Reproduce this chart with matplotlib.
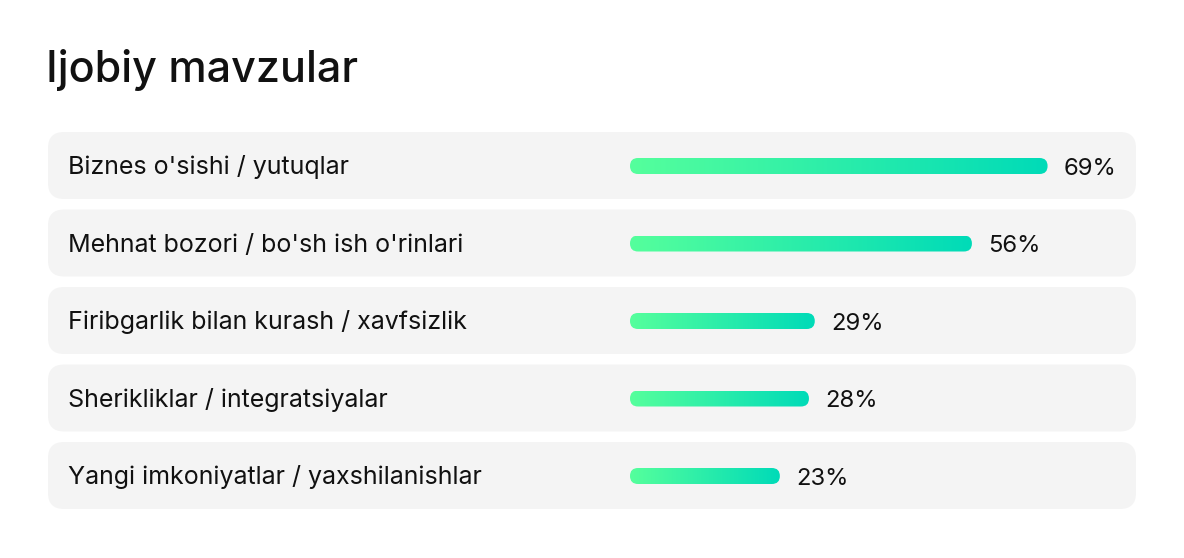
import numpy as np
import matplotlib.pyplot as plt
from matplotlib.patches import FancyBboxPatch
from matplotlib.colors import LinearSegmentedColormap

plt.rcParams['font.family'] = ['Inter', 'DejaVu Sans']

# Data
title = 'Ijobiy mavzular'
topics = [
    "Biznes o'sishi / yutuqlar",
    "Mehnat bozori / bo'sh ish o'rinlari",
    'Firibgarlik bilan kurash / xavfsizlik',
    'Sherikliklar / integratsiyalar',
    'Yangi imkoniyatlar / yaxshilanishlar',
]
shares = [69, 56, 29, 28, 23]

W, H = 1184, 558
fig = plt.figure(figsize=(W / 100, H / 100), dpi=100)

# background layer in pixel coordinates: title, cards, labels
bg = fig.add_axes([0, 0, 1, 1])
bg.set_xlim(0, W)
bg.set_ylim(H, 0)
bg.axis('off')

pitch = 77.5          # row pitch (px)
card_top, card_h = 132, 67
text_col = '#111111'

bg.text(46, 82, title, fontsize=31, fontweight='medium', color=text_col,
        va='baseline', ha='left')

for i, name in enumerate(topics):
    y0 = card_top + i * pitch
    bg.add_patch(FancyBboxPatch((48, y0), 1088, card_h,
                                boxstyle='round,pad=0,rounding_size=16',
                                fc='#f4f4f4', ec='none'))
    bg.text(68, y0 + card_h / 2 + 8.7, name, fontsize=18, color=text_col,
            va='baseline', ha='left')

# data layer: x in percent, y in row index
px_per_pct = 5.82
x0_px = 638
row0_px = 166
xmin, xmax = -5, 80
ax = fig.add_axes([(x0_px + xmin * px_per_pct) / W, (H - (row0_px + 4.5 * pitch)) / H,
                   (xmax - xmin) * px_per_pct / W, 5 * pitch / H])
ax.patch.set_alpha(0)
ax.axis('off')

cmap = LinearSegmentedColormap.from_list('bar', ['#55ff9c', '#00dbb8'])
grad = np.linspace(0, 1, 256).reshape(1, -1)
cap = 8 / px_per_pct          # round cap length in percent units
half = 8 / pitch              # half bar height in row units

for i, v in enumerate(shares):
    shape = FancyBboxPatch((-cap, i - half), v + 2 * cap, 2 * half,
                           boxstyle='round,pad=0,rounding_size={}'.format(cap),
                           mutation_aspect=half / cap, fc='none', ec='none')
    ax.add_patch(shape)
    im = ax.imshow(grad, extent=(-cap, v + cap, i + half, i - half),
                   cmap=cmap, aspect='auto', interpolation='bilinear')
    im.set_clip_path(shape)
    ax.annotate('{}%'.format(v), xy=(v, i), xytext=((8 + 16) * 0.72, -8.7 * 0.72),
                textcoords='offset points', fontsize=17.2, color=text_col,
                va='baseline', ha='left', annotation_clip=False)

ax.set_xlim(xmin, xmax)
ax.set_ylim(4.5, -0.5)

fig.savefig('out.png', dpi=100)
